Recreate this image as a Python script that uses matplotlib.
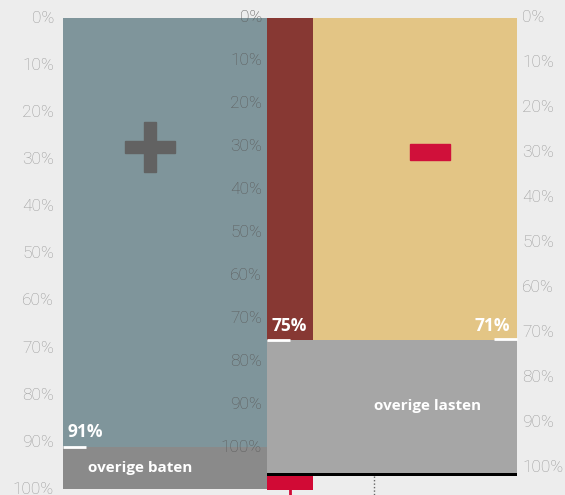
import matplotlib
matplotlib.use("Agg")
import matplotlib.pyplot as plt
from matplotlib.patches import Rectangle

# ---- data ----
tick_values = [0, 10, 20, 30, 40, 50, 60, 70, 80, 90, 100]
baten_main = 91          # % (left scale)
baten_overig = 9         # % (left scale)
lasten_personeel = 75    # % (middle scale)
lasten_overig_end = 106  # % (middle scale)
lasten_extra = [106.7, 110.0]  # red bottom bar (middle scale)
lasten_main_right = 71   # % (right scale)

BG = "#ededed"
fig = plt.figure(figsize=(5.65, 4.95), dpi=100, facecolor=BG)

def make_ax(top, bottom, bg=False):
    ax = fig.add_axes([0, 0, 1, 1], facecolor=BG if bg else "none")
    ax.set_xlim(0, 565)
    ax.set_ylim(bottom, top)
    ax.axis("off")
    return ax

# pixel scales: left 0->18px,100->490px ; middle 0->18,100->447 ; right 0->18,100->467
axL = make_ax(-18 / 4.715, (495 - 18) / 4.715, bg=True)
axM = make_ax(-18 / 4.29, (495 - 18) / 4.29)
axR = make_ax(-18 / 4.49, (495 - 18) / 4.49)

label_font = dict(family=["Roboto", "DejaVu Sans"], fontsize=12.5, fontweight="light")
white_font = dict(family=["Open Sans", "DejaVu Sans"], fontsize=11, fontweight="bold", color="white")
pct_font = dict(family=["Open Sans", "DejaVu Sans"], fontsize=12.5, fontweight="bold", color="white")

# left block (baten)
axL.bar(165, baten_main, width=204, bottom=0, color="#7f959b", zorder=2)
axL.bar(165, baten_overig, width=204, bottom=baten_main, color="#8a8a8a", zorder=2)
axL.plot([63, 86], [baten_main, baten_main], color="white", lw=2, zorder=3, solid_capstyle="butt")
axL.text(67, baten_main - 1.3, f"{baten_main}%", ha="left", va="bottom", **pct_font, zorder=4)
axL.text(140, baten_main + baten_overig / 2, "overige baten", ha="center", va="center", **white_font, zorder=4)

# middle blocks (lasten)
axM.bar(290, lasten_personeel, width=46, bottom=0, color="#873833", zorder=2)
axM.bar(415, lasten_personeel, width=204, bottom=0, color="#e3c585", zorder=2)
axM.bar(392, lasten_overig_end - lasten_personeel, width=250, bottom=lasten_personeel,
        color="#a6a6a6", zorder=2)
axM.bar(392, 0.7, width=250, bottom=lasten_overig_end, color="black", zorder=3)
axM.bar(290, lasten_extra[1] - lasten_extra[0], width=46, bottom=lasten_extra[0],
        color="#d10a35", zorder=3)
axM.plot([290, 290], [lasten_extra[1], 115], color="#d10a35", lw=2, zorder=3)
axM.plot([374, 374], [lasten_extra[0], 115], color="#666666", lw=1, ls=(0, (1, 1.5)), zorder=3)
axM.plot([267, 290], [lasten_personeel, lasten_personeel], color="white", lw=2, zorder=4,
         solid_capstyle="butt")
axM.plot([494, 517], [lasten_personeel - 0.2, lasten_personeel - 0.2], color="white", lw=2,
         zorder=4, solid_capstyle="butt")
axM.text(271, lasten_personeel - 1.1, f"{lasten_personeel}%", ha="left", va="bottom", **pct_font, zorder=5)
axM.text(510, lasten_personeel - 1.1, f"{lasten_main_right}%", ha="right", va="bottom", **pct_font, zorder=5)
axM.text(428, 90.5, "overige lasten", ha="center", va="center", **white_font, zorder=5)

# plus / minus symbols (pixel-space overlay)
axP = fig.add_axes([0, 0, 1, 1], facecolor="none")
axP.set_xlim(0, 565)
axP.set_ylim(495, 0)
axP.axis("off")
axP.add_patch(Rectangle((125, 141), 50, 12, color="#626262", zorder=5))
axP.add_patch(Rectangle((144, 122), 12, 50, color="#626262", zorder=5))
axP.add_patch(Rectangle((410, 144), 40, 16, color="#d0103a", zorder=5))

# axis labels
for v in tick_values:
    axL.text(54, v, f"{v}%", ha="right", va="center", color="#9a9a9a", **label_font, zorder=1)
    axM.text(262, v, f"{v}%", ha="right", va="center", color="#5c5c5c", **label_font, zorder=6)
    axR.text(522, v, f"{v}%", ha="left", va="center", color="#9a9a9a", **label_font, zorder=1)

fig.savefig("out.png", dpi=100, facecolor=BG)
